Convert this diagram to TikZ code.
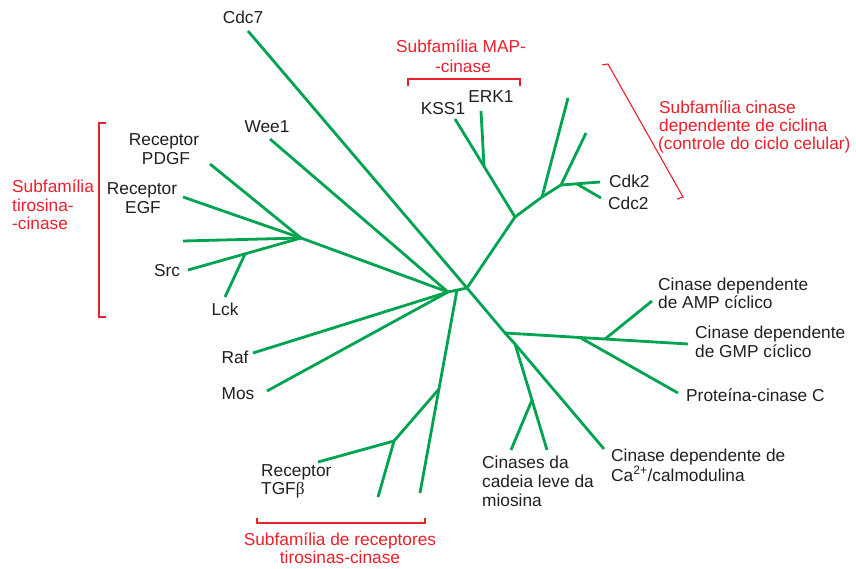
\documentclass[tikz,border=0pt]{standalone}
\usepackage{fontspec}
\setmainfont{Liberation Sans}
\newfontfamily\betafont{Liberation Serif}
\definecolor{treegreen}{RGB}{0,164,80}
\definecolor{famred}{RGB}{236,32,44}
\definecolor{labtext}{RGB}{35,31,32}
\begin{document}
\begin{tikzpicture}[x=1pt,y=-1pt,
  branch/.style={draw=treegreen,line width=2.8pt,line cap=butt,line join=round},
  brk/.style={draw=famred,line width=1.1pt},
  lab/.style={inner sep=0pt,text=labtext,font=\fontsize{17.3}{19}\selectfont},
  fam/.style={inner sep=0pt,text=famred,font=\fontsize{17.3}{19}\selectfont}]
\useasboundingbox[fill=white] (0,0) rectangle (856,568);
% tree vertices
\coordinate (J0) at (467,288);
\coordinate (J1) at (448,292);
\coordinate (J2) at (457,290);
\coordinate (cdc7) at (248,31);
\coordinate (wee1) at (270,139);
\coordinate (T) at (301,238);
\coordinate (pdgf) at (210,164);
\coordinate (egf) at (183,197);
\coordinate (thor) at (183,241);
\coordinate (src) at (188,270);
\coordinate (L) at (245,254);
\coordinate (lck) at (225,297);
\coordinate (raf) at (253,353);
\coordinate (mos) at (267,391);
\coordinate (dend) at (420,493);
\coordinate (D1) at (439,389);
\coordinate (D2) at (394,441);
\coordinate (tgf) at (318,462);
\coordinate (d2end) at (378,497);
\coordinate (J3) at (505,333);
\coordinate (J4) at (515,344);
\coordinate (ca) at (604,449);
\coordinate (cgmp) at (688,344);
\coordinate (P) at (580,337.5);
\coordinate (pkc) at (678,393);
\coordinate (A) at (605,339);
\coordinate (camp) at (652,301);
\coordinate (M) at (532,400);
\coordinate (my1) at (511,450);
\coordinate (my2) at (547,450);
\coordinate (U) at (515,217);
\coordinate (kss1) at (455,119);
\coordinate (E) at (484,166);
\coordinate (erk1) at (481,111);
\coordinate (C1) at (542,197);
\coordinate (c1up) at (568,98);
\coordinate (C2) at (561,185);
\coordinate (c2up) at (586,133);
\coordinate (C3) at (577,184);
\coordinate (cdk2) at (600,182);
\coordinate (cdc2) at (601,198);
% branches
\draw[branch] (cdc7) -- (J0) -- (J3) -- (J4) -- (ca);
\draw[branch] (J1) -- (J0);
\draw[branch] (wee1) -- (J1);
\draw[branch] (T) -- (J1);
\draw[branch] (pdgf) -- (T);
\draw[branch] (egf) -- (T);
\draw[branch] (thor) -- (T);
\draw[branch] (src) -- (T);
\draw[branch] (L) -- (lck);
\draw[branch] (raf) -- (J1);
\draw[branch] (mos) -- (J1);
\draw[branch] (J2) -- (dend);
\draw[branch] (D1) -- (D2) -- (tgf);
\draw[branch] (D2) -- (d2end);
\draw[branch] (J3) -- (cgmp);
\draw[branch] (P) -- (pkc);
\draw[branch] (A) -- (camp);
\draw[branch] (J4) -- (M) -- (my1);
\draw[branch] (M) -- (my2);
\draw[branch] (J0) -- (U) -- (kss1);
\draw[branch] (E) -- (erk1);
\draw[branch] (U) -- (C1) -- (C2) -- (cdk2);
\draw[branch] (C1) -- (c1up);
\draw[branch] (C2) -- (c2up);
\draw[branch] (C3) -- (cdc2);
% labels
\node[lab,anchor=base] (lcdc7) at (243,23) {Cdc7};
\node[lab,anchor=base] (lwee1) at (267,132) {Wee1};
\node[lab,anchor=base] (lpdgfa) at (164,145) {Receptor};
\node[lab,anchor=base] (lpdgfb) at (166,164) {PDGF};
\node[lab,anchor=base] (legfa) at (142,194) {Receptor};
\node[lab,anchor=base] (legfb) at (143,213) {EGF};
\node[lab,anchor=base] (lsrc) at (167,276) {Src};
\node[lab,anchor=base] (llck) at (225,315) {Lck};
\node[lab,anchor=base] (lraf) at (235,363) {Raf};
\node[lab,anchor=base] (lmos) at (238,399) {Mos};
\node[lab,anchor=base west] (ltgfa) at (261,476) {Receptor};
\node[lab,anchor=base west] (ltgfb) at (261,494) {TGF{\betafont β}};
\node[lab,anchor=base west] (lmya) at (482,468) {Cinases da};
\node[lab,anchor=base west] (lmyb) at (482,487) {cadeia leve da};
\node[lab,anchor=base west] (lmyc) at (482,506) {miosina};
\node[lab,anchor=base west] (lcaa) at (611,461) {Cinase dependente de};
\node[lab,anchor=base west] (lcab) at (611,481) {Ca\textsuperscript{2+}/calmodulina};
\node[lab,anchor=base west] (lpkc) at (686,401) {Proteína-cinase C};
\node[lab,anchor=base west] (lgmpa) at (695,338) {Cinase dependente};
\node[lab,anchor=base west] (lgmpb) at (695,357) {de GMP cíclico};
\node[lab,anchor=base west] (lampa) at (658,290) {Cinase dependente};
\node[lab,anchor=base west] (lampb) at (658,308) {de AMP cíclico};
\node[lab,anchor=base west] (lcdk2) at (609,187) {Cdk2};
\node[lab,anchor=base west] (lcdc2) at (608,209) {Cdc2};
\node[lab,anchor=base] (lkss1) at (443,114) {KSS1};
\node[lab,anchor=base] (lerk1) at (491,102) {ERK1};
% family labels
\node[fam,anchor=base] (fmapa) at (461,52) {Subfamília MAP-};
\node[fam,anchor=base] (fmapb) at (463,72) {-cinase};
\node[fam,anchor=base west] (fcdka) at (659,113) {Subfamília cinase};
\node[fam,anchor=base west] (fcdkb) at (659,131) {dependente de ciclina};
\node[fam,anchor=base west] (fcdkc) at (658,149) {(controle do ciclo celular)};
\node[fam,anchor=base west] (ftyra) at (12,192) {Subfamília};
\node[fam,anchor=base west] (ftyrb) at (12,211) {tirosina-};
\node[fam,anchor=base west] (ftyrc) at (12,229) {-cinase};
\node[fam,anchor=base] (freca) at (340,545) {Subfamília de receptores};
\node[fam,anchor=base] (frecb) at (340,563) {tirosinas-cinase};
% brackets
\draw[brk] (106,123) -- (99,123) -- (99,317) -- (106,317);
\draw[brk] (408,86) -- (408,79) -- (520,79) -- (520,86);
\draw[brk] (257,518) -- (257,523) -- (425,523) -- (425,518);
\draw[brk] (602,65) -- (608,64) -- (683,197) -- (677,199);
\end{tikzpicture}
\end{document}
